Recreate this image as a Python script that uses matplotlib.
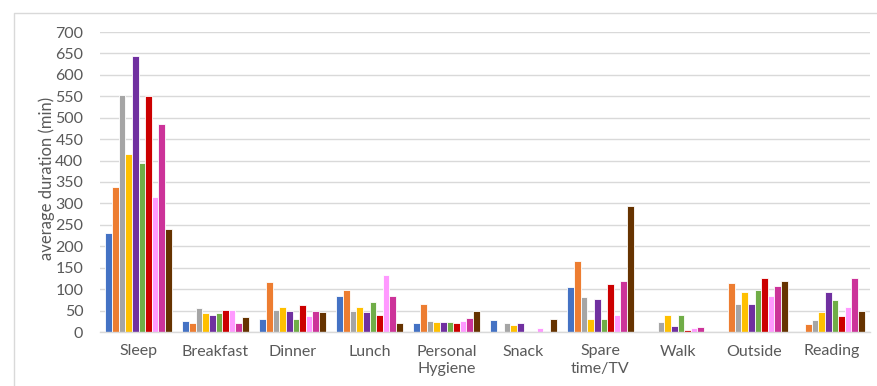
import matplotlib
matplotlib.use("Agg")
import matplotlib.pyplot as plt
from matplotlib.lines import Line2D
import numpy as np

categories = ["Sleep", "Breakfast", "Dinner", "Lunch", "Personal\nHygiene",
              "Snack", "Spare\ntime/TV", "Walk", "Outside", "Reading"]

# average duration (min) per activity for each participant
p1 = [232, 25, 31, 83, 20, 27, 104, 0, 0, 0]
p2 = [338, 20, 116, 97, 65, 0, 166, 0, 115, 19]
p3 = [553, 57, 51, 49, 25, 20, 81, 23, 65, 27]
p4 = [415, 44, 59, 59, 23, 17, 30, 40, 94, 47]
p5 = [645, 39, 49, 47, 23, 20, 76, 14, 65, 93]
p6 = [395, 44, 30, 69, 23, 0, 30, 40, 98, 75]
p7 = [550, 51, 62, 39, 21, 0, 111, 5, 126, 37]
p8 = [314, 51, 37, 132, 25, 9, 40, 9, 84, 59]
p9 = [486, 20, 49, 83, 33, 0, 118, 12, 107, 125]
p10 = [241, 35, 47, 20, 49, 30, 294, 0, 118, 49]

series = [p1, p2, p3, p4, p5, p6, p7, p8, p9, p10]
colors = ["#4472C4", "#ED7D31", "#A5A5A5", "#FFC000", "#7030A0",
          "#70AD47", "#CC0000", "#FF99FF", "#CC3399", "#663300"]
y_ticks = list(range(0, 701, 50))

text_color = "#595959"
fs = 11.5
plt.rcParams["font.family"] = ["Lato", "DejaVu Sans"]

fig = plt.figure(figsize=(8.77, 3.86), dpi=100)
W, H = 877, 386
ax = fig.add_axes([100 / W, 1 - 332 / H, 770 / W, 300 / H])

x = np.arange(len(categories))
group_w = 0.862
bar_w = group_w / len(series)
for i, (vals, c) in enumerate(zip(series, colors)):
    offs = -group_w / 2 + bar_w * (i + 0.5)
    ax.bar(x + offs, vals, width=bar_w, color=c, edgecolor="white",
           linewidth=0.6, zorder=3)

ax.set_xlim(-0.5, len(categories) - 0.5)
ax.set_ylim(0, 700)
ax.set_yticks(y_ticks)
ax.set_yticklabels([str(t) for t in y_ticks], fontsize=fs, color=text_color)
ax.set_xticks(x)
ax.set_xticklabels(categories, fontsize=fs, color=text_color, linespacing=1.35)
ax.tick_params(axis="both", length=0)
ax.tick_params(axis="y", pad=12)
ax.tick_params(axis="x", pad=9)

ax.grid(axis="y", color="#D9D9D9", linewidth=1.0, zorder=0)
for s in ["top", "right", "left"]:
    ax.spines[s].set_visible(False)
ax.spines["bottom"].set_color("#D9D9D9")
ax.spines["bottom"].set_linewidth(1.0)
ax.spines["bottom"].set_zorder(4)

fig.text(47 / W, 1 - 178 / H, "average duration (min)", rotation=90,
         ha="center", va="center", fontsize=12, color=text_color)

# chart frame
fig.add_artist(Line2D([13.5 / W, 13.5 / W, 1.0], [0.0, 1 - 12.5 / H, 1 - 12.5 / H],
                      transform=fig.transFigure, color="#D9D9D9", linewidth=1.0))

fig.savefig("out.png", dpi=100, facecolor="white")
